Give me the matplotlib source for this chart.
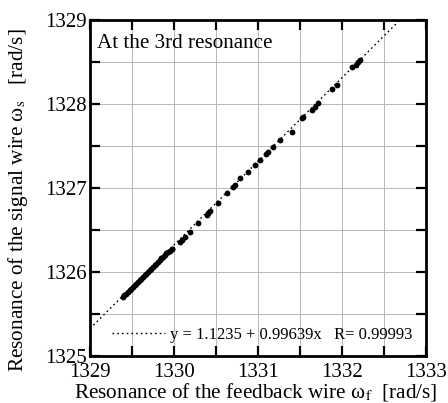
import numpy as np
import matplotlib.pyplot as plt
from matplotlib.ticker import MultipleLocator

plt.rcParams['font.family'] = ['Liberation Serif', 'DejaVu Serif']
plt.rcParams['mathtext.fontset'] = 'stix'

omega_f = [1329.39, 1329.41, 1329.43, 1329.45, 1329.47, 1329.49, 1329.51, 1329.53,
           1329.55, 1329.57, 1329.59, 1329.61, 1329.63, 1329.65, 1329.67, 1329.69,
           1329.71, 1329.73, 1329.75, 1329.77, 1329.79, 1329.81, 1329.83, 1329.85,
           1329.87, 1329.89, 1329.91, 1329.93, 1329.95, 1329.97, 1329.98,
           1330.07, 1330.10, 1330.13, 1330.19, 1330.29, 1330.39, 1330.41, 1330.43,
           1330.52, 1330.63, 1330.70, 1330.72, 1330.79, 1330.88, 1330.96, 1331.02,
           1331.10, 1331.12, 1331.18, 1331.26, 1331.41, 1331.52, 1331.54, 1331.64,
           1331.68, 1331.71, 1331.88, 1331.94, 1332.12, 1332.17, 1332.19, 1332.21]
omega_s = [1325.70, 1325.72, 1325.74, 1325.76, 1325.78, 1325.80, 1325.82, 1325.84,
           1325.86, 1325.88, 1325.90, 1325.92, 1325.94, 1325.96, 1325.98, 1326.00,
           1326.02, 1326.04, 1326.06, 1326.08, 1326.10, 1326.12, 1326.14, 1326.16,
           1326.18, 1326.20, 1326.22, 1326.24, 1326.25, 1326.27, 1326.27,
           1326.36, 1326.38, 1326.42, 1326.48, 1326.58, 1326.68, 1326.70, 1326.72,
           1326.82, 1326.94, 1327.01, 1327.03, 1327.12, 1327.19, 1327.27, 1327.33,
           1327.41, 1327.43, 1327.49, 1327.57, 1327.67, 1327.83, 1327.85, 1327.93,
           1327.96, 1328.01, 1328.18, 1328.23, 1328.44, 1328.47, 1328.50, 1328.52]

# linear fit y = a + b x
fit_a = 1.1235
fit_b = 0.99639
fit_r = 0.99993

fig, ax = plt.subplots(figsize=(4.48, 4.03), dpi=100)
fig.subplots_adjust(left=0.201, right=0.951, top=0.950, bottom=0.117)

xf = np.array([1329.0, 1333.0])
ax.plot(xf, fit_a + fit_b * xf, color='k', linestyle=(0, (1.2, 2.2)), linewidth=1.0,
        label='y = %.4f + %.5fx   R= %.5f' % (fit_a, fit_b, fit_r))
ax.plot(omega_f, omega_s, 'o', color='k', markersize=4.2, markeredgewidth=0)

ax.set_xlim(1329, 1333)
ax.set_ylim(1325, 1329)
ax.xaxis.set_major_locator(MultipleLocator(1))
ax.yaxis.set_major_locator(MultipleLocator(1))
ax.xaxis.set_minor_locator(MultipleLocator(0.5))
ax.yaxis.set_minor_locator(MultipleLocator(0.5))
ax.grid(True, which='both', color='#b8b8b8', linewidth=0.7)
ax.set_axisbelow(True)
ax.tick_params(which='both', direction='in', top=True, right=True,
               length=7, width=1.6, labelsize=15, pad=2)
ax.tick_params(axis='x', pad=5)
for s in ax.spines.values():
    s.set_linewidth(2)

ax.set_xlabel('Resonance of the feedback wire ω$_{\\mathrm{f}}$  [rad/s]',
              fontsize=15.3)
ax.xaxis.set_label_coords(0.494, -0.075)
ax.set_ylabel('Resonance of the signal wire ω$_{\\mathrm{s}}$   [rad/s]',
              fontsize=15.3, va='center')
ax.yaxis.set_label_coords(-0.214, 0.464)
ax.text(0.02, 0.93, 'At the 3rd resonance', transform=ax.transAxes,
        fontsize=15.2, va='center', ha='left')

ax.legend(loc='lower right', frameon=False, fontsize=12, handlelength=3.2,
          handletextpad=0.3, borderaxespad=0.4)

plt.savefig('out.png', dpi=100)
